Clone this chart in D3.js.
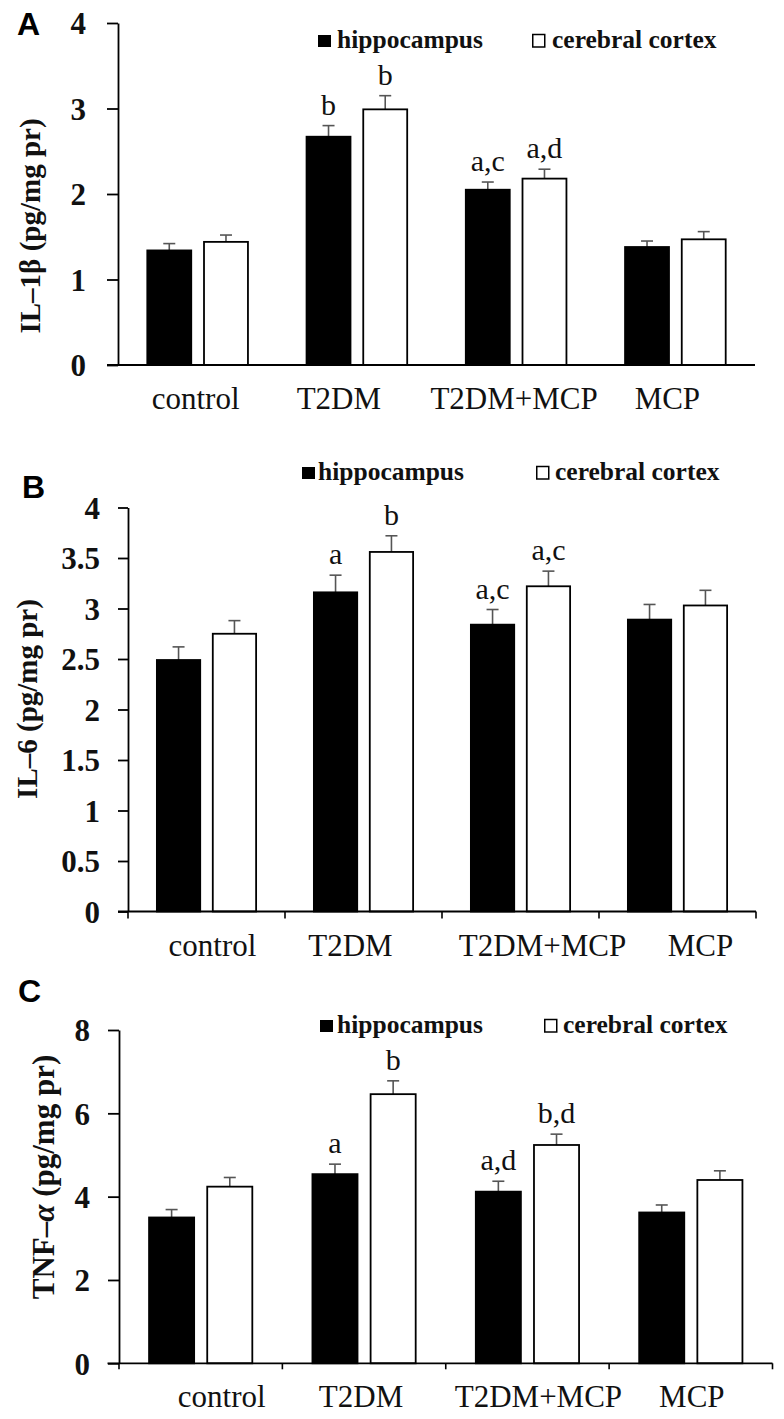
<!DOCTYPE html>
<html>
<head>
<meta charset="utf-8">
<script src="https://cdn.jsdelivr.net/npm/d3@7"></script>
<style>
  html, body { margin: 0; padding: 0; background: #ffffff; }
  svg { display: block; }
</style>
</head>
<body>
<svg id="chart" width="784" height="1419"></svg>
<script>
// ---------------- DATA ----------------
const categories = ["control", "T2DM", "T2DM+MCP", "MCP"];
const seriesNames = ["hippocampus", "cerebral cortex"];

// Panel A: IL-1β
const il1bHippo = [1.34, 2.67, 2.05, 1.38];
const il1bHippoErr = [0.08, 0.13, 0.09, 0.07];
const il1bCortex = [1.44, 2.99, 2.18, 1.47];
const il1bCortexErr = [0.08, 0.16, 0.11, 0.09];
const il1bHippoSig = ["", "b", "a,c", ""];
const il1bCortexSig = ["", "b", "a,d", ""];
const il1bTicks = [0, 1, 2, 3, 4];

// Panel B: IL-6
const il6Hippo = [2.49, 3.16, 2.84, 2.89];
const il6HippoErr = [0.13, 0.17, 0.15, 0.15];
const il6Cortex = [2.75, 3.56, 3.22, 3.03];
const il6CortexErr = [0.13, 0.16, 0.15, 0.15];
const il6HippoSig = ["", "a", "a,c", ""];
const il6CortexSig = ["", "b", "a,c", ""];
const il6Ticks = [0, 0.5, 1, 1.5, 2, 2.5, 3, 3.5, 4];

// Panel C: TNF-α
const tnfHippo = [3.50, 4.54, 4.12, 3.62];
const tnfHippoErr = [0.19, 0.24, 0.25, 0.18];
const tnfCortex = [4.24, 6.46, 5.24, 4.40];
const tnfCortexErr = [0.22, 0.32, 0.26, 0.22];
const tnfHippoSig = ["", "a", "a,d", ""];
const tnfCortexSig = ["", "b", "b,d", ""];
const tnfTicks = [0, 2, 4, 6, 8];

// ---------------- LAYOUT ----------------
const SERIF = "'Liberation Serif', 'Times New Roman', Times, serif";
const SANS = "'Liberation Sans', Arial, Helvetica, sans-serif";

const panels = [
  {
    letter: "A", letterX: 17, letterY: 35,
    title: ["IL–1β (pg/mg pr)"], titleX: 40, titleY: 226, titleSize: 29,
    hippo: il1bHippo, hippoErr: il1bHippoErr, cortex: il1bCortex, cortexErr: il1bCortexErr,
    hippoSig: il1bHippoSig, cortexSig: il1bCortexSig, ticks: il1bTicks, yMax: 4,
    xRange: [118, 755], yRange: [365, 23], tickLen: 11, axisLeft: 107,
    tickLabelRight: 86, catTicks: false,
    labelDx: [-2, -18, -2, -8],
    legendY: 48, legend: [318, 337, 532, 552]
  },
  {
    letter: "B", letterX: 22, letterY: 498,
    title: ["IL–6 (pg/mg pr)"], titleX: 37, titleY: 699, titleSize: 29,
    hippo: il6Hippo, hippoErr: il6HippoErr, cortex: il6Cortex, cortexErr: il6CortexErr,
    hippoSig: il6HippoSig, cortexSig: il6CortexSig, ticks: il6Ticks, yMax: 4,
    xRange: [128, 756], yRange: [911.5, 507.5], tickLen: 10, axisLeft: 118,
    tickLabelRight: 100, catTicks: true, catTickLen: 7,
    labelDx: [6, -13, 22, 23],
    legendY: 480, legend: [302, 318, 536, 555]
  },
  {
    letter: "C", letterX: 18, letterY: 1002,
    title: ["TNF–", "α", " (pg/mg pr)"], titleX: 54, titleY: 1177, titleSize: 31,
    hippo: tnfHippo, hippoErr: tnfHippoErr, cortex: tnfCortex, cortexErr: tnfCortexErr,
    hippoSig: tnfHippoSig, cortexSig: tnfCortexSig, ticks: tnfTicks, yMax: 8,
    xRange: [119, 772.5], yRange: [1363.3, 1030], tickLen: 11, axisLeft: 107.5,
    tickLabelRight: 90, catTicks: true, catTickLen: 6,
    labelDx: [21, -3, 11, 1],
    legendY: 1033, legend: [320, 337, 544, 563]
  }
];

const svg = d3.select("#chart");

panels.forEach(p => {
  const g = svg.append("g");
  const x0 = d3.scaleBand().domain(categories).range(p.xRange).padding(0);
  const bw = x0.bandwidth();
  const x1 = d3.scaleBand().domain(seriesNames)
    .range([bw * 0.184, bw * 0.816]).paddingInner(0.225).paddingOuter(0);
  const y = d3.scaleLinear().domain([0, p.yMax]).range(p.yRange);

  const rows = categories.map((c, i) => ({
    cat: c,
    vals: [
      { s: seriesNames[0], v: p.hippo[i], e: p.hippoErr[i], sig: p.hippoSig[i] },
      { s: seriesNames[1], v: p.cortex[i], e: p.cortexErr[i], sig: p.cortexSig[i] }
    ]
  }));

  const groups = g.selectAll("g.grp").data(rows).join("g")
    .attr("class", "grp")
    .attr("transform", d => `translate(${x0(d.cat)},0)`);

  // Error bars (upper only)
  groups.selectAll("g.err").data(d => d.vals).join("g").attr("class", "err")
    .each(function (d) {
      const cx = x1(d.s) + x1.bandwidth() / 2;
      const sel = d3.select(this);
      sel.append("line")
        .attr("x1", cx).attr("x2", cx)
        .attr("y1", y(d.v)).attr("y2", y(d.v + d.e))
        .attr("stroke", "#555").attr("stroke-width", 1.6);
      sel.append("line")
        .attr("x1", cx - 6).attr("x2", cx + 6)
        .attr("y1", y(d.v + d.e)).attr("y2", y(d.v + d.e))
        .attr("stroke", "#555").attr("stroke-width", 1.6);
    });

  groups.selectAll("rect").data(d => d.vals).join("rect")
    .attr("x", d => x1(d.s))
    .attr("width", x1.bandwidth())
    .attr("y", d => y(d.v))
    .attr("height", d => y(0) - y(d.v))
    .attr("fill", d => d.s === seriesNames[0] ? "#000" : "#fff")
    .attr("stroke", "#000").attr("stroke-width", 1.8);

  // significance letters
  groups.selectAll("text.sig").data(d => d.vals.filter(v => v.sig)).join("text")
    .attr("class", "sig")
    .attr("x", d => x1(d.s) + x1.bandwidth() / 2)
    .attr("y", d => y(d.v + d.e) - 11)
    .attr("text-anchor", "middle")
    .attr("font-family", SERIF).attr("font-size", 30)
    .attr("fill", "#111")
    .text(d => d.sig);

  // Y axis
  const yAxis = d3.axisLeft(y).tickValues(p.ticks).tickSize(p.tickLen).tickSizeOuter(0)
    .tickFormat(d3.format("~g"));
  const ya = g.append("g").attr("transform", `translate(${p.xRange[0]},0)`).call(yAxis);
  ya.select(".domain").attr("stroke", "#000").attr("stroke-width", 1.8);
  ya.selectAll(".tick line").attr("stroke", "#000").attr("stroke-width", 1.8);
  ya.selectAll(".tick text")
    .attr("x", p.tickLabelRight - p.xRange[0])
    .attr("dy", "0.35em")
    .attr("font-family", SERIF).attr("font-size", 31).attr("font-weight", "bold")
    .attr("fill", "#111");

  // X axis line
  g.append("line")
    .attr("x1", p.axisLeft).attr("x2", p.xRange[1])
    .attr("y1", y(0)).attr("y2", y(0))
    .attr("stroke", "#000").attr("stroke-width", 1.8);

  if (p.catTicks) {
    const bounds = categories.map(c => x0(c)).concat([p.xRange[1]]);
    g.selectAll("line.ct").data(bounds).join("line").attr("class", "ct")
      .attr("x1", d => d).attr("x2", d => d)
      .attr("y1", y(0)).attr("y2", y(0) + p.catTickLen)
      .attr("stroke", "#000").attr("stroke-width", 1.6);
  }

  // category labels
  g.selectAll("text.cat").data(categories).join("text").attr("class", "cat")
    .attr("x", (d, i) => x0(d) + bw / 2 + p.labelDx[i])
    .attr("y", y(0) + 44)
    .attr("text-anchor", "middle")
    .attr("font-family", SERIF).attr("font-size", 31)
    .attr("fill", "#111")
    .text(d => d);

  // Y title
  const t = g.append("text")
    .attr("transform", `translate(${p.titleX},${p.titleY}) rotate(-90)`)
    .attr("text-anchor", "middle")
    .attr("font-family", SERIF).attr("font-size", p.titleSize).attr("font-weight", "bold")
    .attr("fill", "#111");
  p.title.forEach(part => {
    const ts = t.append("tspan").text(part);
    if (part === "α") ts.attr("font-style", "italic");
  });

  // Panel letter
  g.append("text")
    .attr("x", p.letterX).attr("y", p.letterY)
    .attr("font-family", SANS).attr("font-size", 32).attr("font-weight", "bold")
    .attr("fill", "#000")
    .text(p.letter);

  // Legend
  const [bx, btx, wx, wtx] = p.legend;
  const ly = p.legendY;
  g.append("rect").attr("x", bx).attr("y", ly - 13).attr("width", 13).attr("height", 12)
    .attr("fill", "#000");
  g.append("text").attr("x", btx).attr("y", ly)
    .attr("font-family", SERIF).attr("font-size", 25.5).attr("font-weight", "bold")
    .attr("fill", "#111").text(seriesNames[0]);
  g.append("rect").attr("x", wx + 0.75).attr("y", ly - 13.5).attr("width", 12).attr("height", 12.5)
    .attr("fill", "#fff").attr("stroke", "#000").attr("stroke-width", 1.5);
  g.append("text").attr("x", wtx).attr("y", ly)
    .attr("font-family", SERIF).attr("font-size", 25.5).attr("font-weight", "bold")
    .attr("fill", "#111").text(seriesNames[1]);
});
</script>
</body>
</html>
